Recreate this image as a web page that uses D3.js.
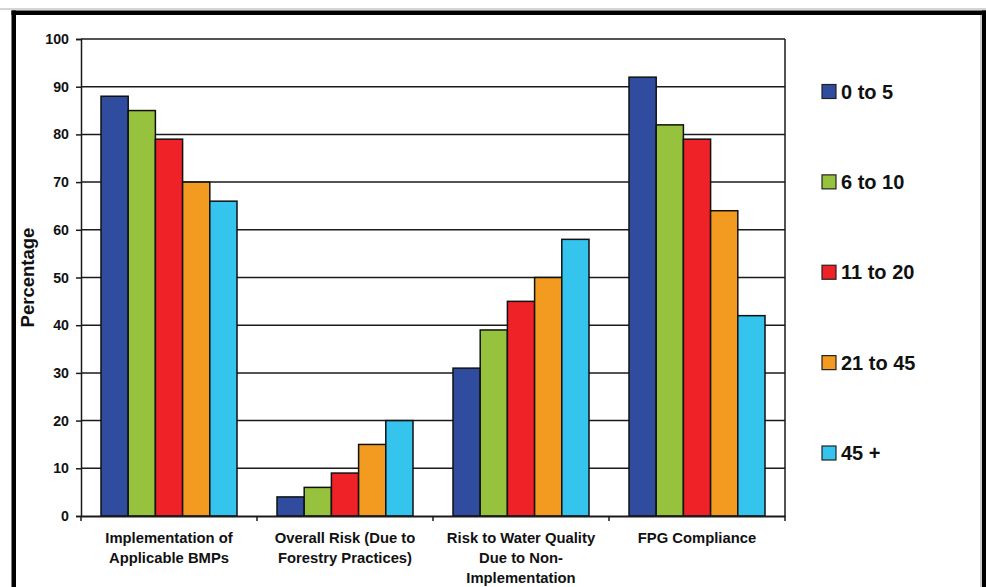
<!DOCTYPE html>
<html>
<head>
<meta charset="utf-8">
<script src="https://cdn.jsdelivr.net/npm/d3@7/dist/d3.min.js"></script>
<style>
  html, body { margin: 0; padding: 0; background: #fff; }
  svg { display: block; font-family: "Liberation Sans", Arial, sans-serif; }
</style>
</head>
<body>
<svg id="chart" width="986" height="587"></svg>
<script>
// ---- data ----
const categories = [
  "Implementation of Applicable BMPs",
  "Overall Risk (Due to Forestry Practices)",
  "Risk to Water Quality Due to Non-Implementation",
  "FPG Compliance"
];
const categoryLines = [
  ["Implementation of", "Applicable BMPs"],
  ["Overall Risk (Due to", "Forestry Practices)"],
  ["Risk to Water Quality", "Due to Non-", "Implementation"],
  ["FPG Compliance"]
];
const seriesNames = ["0 to 5", "6 to 10", "11 to 20", "21 to 45", "45 +"];
const seriesColors = ["#2f4c9e", "#97c23d", "#ee2227", "#f39a20", "#35c4ee"];
const values0to5   = [88, 4, 31, 92];
const values6to10  = [85, 6, 39, 82];
const values11to20 = [79, 9, 45, 79];
const values21to45 = [70, 15, 50, 64];
const values45plus = [66, 20, 58, 42];
const seriesValues = [values0to5, values6to10, values11to20, values21to45, values45plus];
const yTicks = [0, 10, 20, 30, 40, 50, 60, 70, 80, 90, 100];
const yTitle = "Percentage";

// ---- layout ----
const svg = d3.select("#chart");
const plot = { left: 81, right: 785, top: 39, bottom: 516 };

// top cut-off rule and frame
svg.append("line").attr("x1", 0).attr("x2", 986).attr("y1", 9).attr("y2", 9)
  .attr("stroke", "#aaa").attr("stroke-width", 1);
svg.append("rect").attr("x", 11.5).attr("y", 10.5).attr("width", 975).attr("height", 4.5).attr("fill", "#000");
svg.append("rect").attr("x", 11.5).attr("y", 10.5).attr("width", 4.5).attr("height", 580).attr("fill", "#000");
svg.append("rect").attr("x", 982).attr("y", 10.5).attr("width", 4).attr("height", 580).attr("fill", "#000");
svg.append("line").attr("x1", 981).attr("x2", 981).attr("y1", 15).attr("y2", 587)
  .attr("stroke", "#999").attr("stroke-width", 1);

const y = d3.scaleLinear().domain([0, 100]).range([plot.bottom, plot.top]);
const x0 = d3.scaleBand().domain(categories).range([plot.left, plot.right]).padding(0);
const groupPad = x0.bandwidth() * 20 / 176;
const x1 = d3.scaleBand().domain(seriesNames).range([groupPad, x0.bandwidth() - groupPad]).padding(0);
const color = d3.scaleOrdinal().domain(seriesNames).range(seriesColors);

// gridlines
svg.append("g").selectAll("line").data(yTicks.filter(t => t > 0)).join("line")
  .attr("x1", plot.left).attr("x2", plot.right)
  .attr("y1", d => y(d)).attr("y2", d => y(d))
  .attr("stroke", "#1a1a1a").attr("stroke-width", 1.5);

// right plot border
svg.append("line").attr("x1", plot.right).attr("x2", plot.right)
  .attr("y1", plot.top).attr("y2", plot.bottom)
  .attr("stroke", "#1a1a1a").attr("stroke-width", 1.5);

// bars
const groups = svg.append("g").selectAll("g").data(categories).join("g")
  .attr("transform", d => `translate(${x0(d)},0)`);
groups.selectAll("rect")
  .data((c, ci) => seriesNames.map((s, si) => ({ s, v: seriesValues[si][ci] })))
  .join("rect")
  .attr("x", d => x1(d.s))
  .attr("y", d => y(d.v))
  .attr("width", x1.bandwidth())
  .attr("height", d => y(0) - y(d.v))
  .attr("fill", d => color(d.s))
  .attr("stroke", "#111").attr("stroke-width", 1.5);

// y axis
const yAxis = d3.axisLeft(y).tickValues(yTicks).tickSize(5).tickPadding(7);
const gy = svg.append("g").attr("transform", `translate(${plot.left},0)`).call(yAxis);
gy.select(".domain").attr("stroke", "#1a1a1a").attr("stroke-width", 1.5);
gy.selectAll(".tick line").attr("stroke", "#1a1a1a").attr("stroke-width", 1.5);
gy.selectAll(".tick text").attr("font-family", "Liberation Sans, Arial, sans-serif")
  .attr("font-size", 14.2).attr("font-weight", "bold").attr("fill", "#111");

// x axis
const xAxis = d3.axisBottom(x0).tickSize(0).tickFormat("");
const gx = svg.append("g").attr("transform", `translate(0,${plot.bottom})`).call(xAxis);
gx.select(".domain").attr("stroke", "#1a1a1a").attr("stroke-width", 2);
const boundaries = categories.map(c => x0(c)).concat([plot.right]);
svg.append("g").selectAll("line").data(boundaries).join("line")
  .attr("x1", d => d).attr("x2", d => d)
  .attr("y1", plot.bottom).attr("y2", plot.bottom + 5)
  .attr("stroke", "#1a1a1a").attr("stroke-width", 1.5);

// category labels
const labels = svg.append("g").selectAll("text").data(categories).join("text")
  .attr("x", d => x0(d) + x0.bandwidth() / 2)
  .attr("y", 543)
  .attr("text-anchor", "middle")
  .attr("font-size", 14.8).attr("font-weight", "bold").attr("fill", "#111");
labels.each(function(d, i) {
  d3.select(this).selectAll("tspan").data(categoryLines[i]).join("tspan")
    .attr("x", x0(d) + x0.bandwidth() / 2)
    .attr("dy", (t, j) => j === 0 ? 0 : 20)
    .text(t => t);
});

// y title
svg.append("text")
  .attr("transform", `translate(34,${(plot.top + plot.bottom) / 2}) rotate(-90)`)
  .attr("text-anchor", "middle")
  .attr("font-size", 18.5).attr("font-weight", "bold").attr("fill", "#111")
  .text(yTitle);

// legend
const legendY = d3.scalePoint().domain(seriesNames).range([91.5, 453]);
const leg = svg.append("g").selectAll("g").data(seriesNames).join("g")
  .attr("transform", d => `translate(822,${legendY(d)})`);
leg.append("rect").attr("x", 0).attr("y", -7).attr("width", 14).attr("height", 14)
  .attr("fill", d => color(d)).attr("stroke", "#222").attr("stroke-width", 1.2);
leg.append("text").attr("x", 19).attr("y", 7.2)
  .attr("font-size", 20).attr("font-weight", "bold").attr("fill", "#111")
  .text(d => d);
</script>
</body>
</html>
